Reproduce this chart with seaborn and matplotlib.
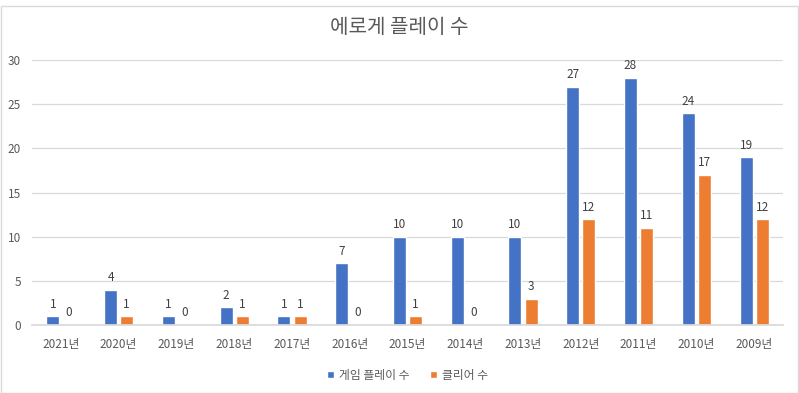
import matplotlib
matplotlib.use("Agg")
import matplotlib.pyplot as plt
import seaborn as sns
import pandas as pd

years = ["2021년", "2020년", "2019년", "2018년", "2017년", "2016년", "2015년",
         "2014년", "2013년", "2012년", "2011년", "2010년", "2009년"]
plays = [1, 4, 1, 2, 1, 7, 10, 10, 10, 27, 28, 24, 19]
clears = [0, 1, 0, 1, 1, 0, 1, 0, 3, 12, 11, 17, 12]
series_names = ["게임 플레이 수", "클리어 수"]
colors = ["#4472C4", "#ED7D31"]
title = "에로게 플레이 수"
yticks = [0, 5, 10, 15, 20, 25, 30]

df = pd.DataFrame({
    "year": years * 2,
    "value": plays + clears,
    "series": [series_names[0]] * len(years) + [series_names[1]] * len(years),
})

sns.set_theme(style="white")
plt.rcParams["font.family"] = ["Noto Sans CJK KR", "DejaVu Sans"]

fig = plt.figure(figsize=(7.99, 3.93), dpi=100)
ax = fig.add_axes([0.040, 0.173, 0.940, 0.674])

sns.barplot(data=df, x="year", y="value", hue="series", order=years,
            hue_order=series_names, palette=colors, width=0.56, gap=0.2,
            ax=ax, saturation=1, legend=True)

for c in ax.containers:
    ax.bar_label(c, padding=4, fontsize=8.5, color="#404040")

ax.set_xlim(-0.5, 12.5)
ax.set_ylim(0, 30)
ax.set_yticks(yticks)
ax.yaxis.grid(True, color="#D9D9D9", linewidth=0.9)
ax.set_axisbelow(True)
for s in ["top", "right", "left"]:
    ax.spines[s].set_visible(False)
ax.spines["bottom"].set_color("#D9D9D9")
ax.tick_params(axis="both", colors="#595959", labelsize=8.5, length=0)
ax.tick_params(axis="x", pad=9)
ax.tick_params(axis="y", pad=8)
ax.set_xlabel("")
ax.set_ylabel("")

leg = ax.legend(loc="center", bbox_to_anchor=(0.5, -0.19), ncol=2, frameon=False,
                fontsize=8.5, handlelength=0.6, handleheight=0.6, handletextpad=0.4,
                columnspacing=1.8)
for t in leg.get_texts():
    t.set_color("#595959")

fig.text(0.5, 0.93, title, ha="center", va="center", fontsize=14.5, color="#595959")

# chart border
fig.add_artist(plt.Rectangle((0.001, 0.0), 0.998, 0.985, transform=fig.transFigure,
                             fill=False, edgecolor="#D9D9D9", linewidth=1))

fig.savefig("out.png", dpi=100)
